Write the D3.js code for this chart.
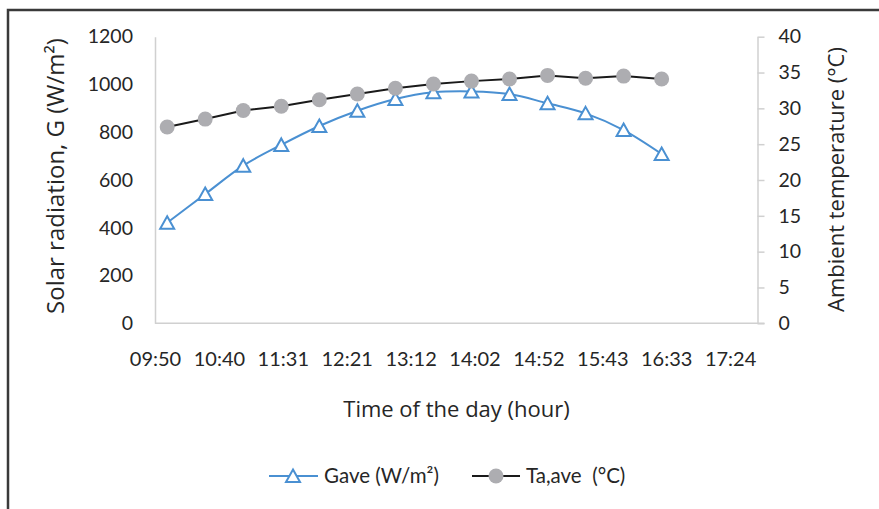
<!DOCTYPE html>
<html>
<head>
<meta charset="utf-8">
<script src="https://cdn.jsdelivr.net/npm/d3@7/dist/d3.min.js"></script>
<style>
  html, body { margin: 0; padding: 0; background: #fff; }
  svg { display: block; }
</style>
</head>
<body>
<svg id="chart" width="879" height="509"></svg>
<script>
// ---- data ----
const times = ["10:00","10:30","11:00","11:30","12:00","12:30","13:00","13:30","14:00","14:30","15:00","15:30","16:00","16:30"];
const gave = [421, 541, 660, 747, 826, 890, 939, 967, 971, 960, 921, 879, 809, 709];
const taAve = [27.4, 28.5, 29.7, 30.3, 31.2, 32.0, 32.8, 33.4, 33.8, 34.1, 34.6, 34.2, 34.5, 34.1];
const xTickLabels = ["09:50","10:40","11:31","12:21","13:12","14:02","14:52","15:43","16:33","17:24"];
const leftTicks = [0, 200, 400, 600, 800, 1000, 1200];
const rightTicks = [0, 5, 10, 15, 20, 25, 30, 35, 40];
// Excel-style day fractions for the time axis
const xMinDay = 0.41, xMaxDay = 0.74, xMajorDay = 0.035;

const toMin = s => { const [h, m] = s.split(":").map(Number); return h * 60 + m; };

const svg = d3.select("#chart");
const W = 879, H = 509;
const plot = { left: 155, right: 757.5, top: 36.7, bottom: 323.3 };

// frame
svg.append("path")
  .attr("d", `M8,${H + 5} L8,10 L${W + 5},10`)
  .attr("fill", "none").attr("stroke", "#3a3a3a").attr("stroke-width", 2.5);

const x = d3.scaleLinear().domain([xMinDay * 1440, xMaxDay * 1440]).range([plot.left, plot.right]);
const yL = d3.scaleLinear().domain([0, 1200]).range([plot.bottom, plot.top]);
const yR = d3.scaleLinear().domain([0, 40]).range([plot.bottom, plot.top]);

const tickFont = "Lato, 'Open Sans', sans-serif";
const titleFont = "'Open Sans', 'Noto Sans', sans-serif";
const txt = "#262626";

// left axis
const gL = svg.append("g").attr("transform", `translate(${plot.left},0)`)
  .call(d3.axisLeft(yL).tickValues(leftTicks).tickFormat(d3.format("d")).tickSize(0).tickPadding(22));
gL.select(".domain").attr("stroke", "#d0d0d0").attr("stroke-width", 1.5);
gL.selectAll("text").attr("font-family", tickFont).attr("font-size", 19.5).attr("fill", txt);

// right axis
const gR = svg.append("g").attr("transform", `translate(${plot.right},0)`)
  .call(d3.axisRight(yR).tickValues(rightTicks).tickFormat(d3.format("d")).tickSize(7).tickSizeOuter(0).tickPadding(14));
gR.select(".domain").attr("stroke", "#d0d0d0").attr("stroke-width", 1.5);
gR.selectAll("line").attr("stroke", "#d0d0d0").attr("stroke-width", 1.5);
gR.selectAll("text").attr("font-family", tickFont).attr("font-size", 19.5).attr("fill", txt);

// bottom axis
const xTickVals = xTickLabels.map((_, i) => (xMinDay + i * xMajorDay) * 1440);
const gB = svg.append("g").attr("transform", `translate(0,${plot.bottom})`)
  .call(d3.axisBottom(x).tickValues(xTickVals).tickFormat((d, i) => xTickLabels[i]).tickSize(0).tickPadding(29));
gB.select(".domain").remove();
gB.selectAll("text").attr("font-family", tickFont).attr("font-size", 20).attr("fill", txt);
svg.append("line")
  .attr("x1", plot.left).attr("x2", plot.right + 7)
  .attr("y1", plot.bottom).attr("y2", plot.bottom)
  .attr("stroke", "#d0d0d0").attr("stroke-width", 1.5);

// axis titles
svg.append("text")
  .attr("transform", `translate(64,176) rotate(-90)`)
  .attr("text-anchor", "middle")
  .attr("font-family", titleFont).attr("font-size", 24).attr("fill", txt)
  .text("Solar radiation, G (W/m²)");
svg.append("text")
  .attr("transform", `translate(844,179.5) rotate(-90)`)
  .attr("text-anchor", "middle")
  .attr("font-family", titleFont).attr("font-size", 22).attr("fill", txt)
  .text("Ambient temperature (°C)");
svg.append("text")
  .attr("x", 456.5).attr("y", 417)
  .attr("text-anchor", "middle")
  .attr("font-family", titleFont).attr("font-size", 22).attr("fill", txt)
  .text("Time of the day (hour)");

// series
const blue = "#4a90d2";
const gData = times.map((t, i) => ({ x: toMin(t), y: gave[i] }));
const tData = times.map((t, i) => ({ x: toMin(t), y: taAve[i] }));

svg.append("path")
  .datum(gData)
  .attr("fill", "none").attr("stroke", blue).attr("stroke-width", 2)
  .attr("d", d3.line().x(d => x(d.x)).y(d => yL(d.y)).curve(d3.curveCardinal.tension(0)));

const tri = "M0,-6.5L7,6L-7,6Z";
svg.append("g").selectAll("path").data(gData).join("path")
  .attr("transform", d => `translate(${x(d.x)},${yL(d.y)})`)
  .attr("d", tri).attr("fill", "#fff").attr("stroke", blue).attr("stroke-width", 2);

svg.append("path")
  .datum(tData)
  .attr("fill", "none").attr("stroke", "#1a1a1a").attr("stroke-width", 2)
  .attr("d", d3.line().x(d => x(d.x)).y(d => yR(d.y)));

svg.append("g").selectAll("circle").data(tData).join("circle")
  .attr("cx", d => x(d.x)).attr("cy", d => yR(d.y)).attr("r", 7.5)
  .attr("fill", "#adadb1");

// legend
const ly = 476;
const lg = svg.append("g");
lg.append("line").attr("x1", 269).attr("x2", 318).attr("y1", ly).attr("y2", ly)
  .attr("stroke", blue).attr("stroke-width", 2);
lg.append("path").attr("transform", `translate(293,${ly})`).attr("d", tri)
  .attr("fill", "#fff").attr("stroke", blue).attr("stroke-width", 2);
lg.append("text").attr("x", 324).attr("y", ly + 7)
  .attr("font-family", tickFont).attr("font-size", 20.5).attr("fill", txt)
  .text("Gave (W/m²)");
lg.append("line").attr("x1", 472).attr("x2", 520).attr("y1", ly).attr("y2", ly)
  .attr("stroke", "#1a1a1a").attr("stroke-width", 2);
lg.append("circle").attr("cx", 496).attr("cy", ly).attr("r", 7.5).attr("fill", "#adadb1");
lg.append("text").attr("x", 526).attr("y", ly + 7)
  .attr("font-family", tickFont).attr("font-size", 20.5).attr("fill", txt)
  .style("white-space", "pre")
  .text("Ta,ave  (°C)");
</script>
</body>
</html>
